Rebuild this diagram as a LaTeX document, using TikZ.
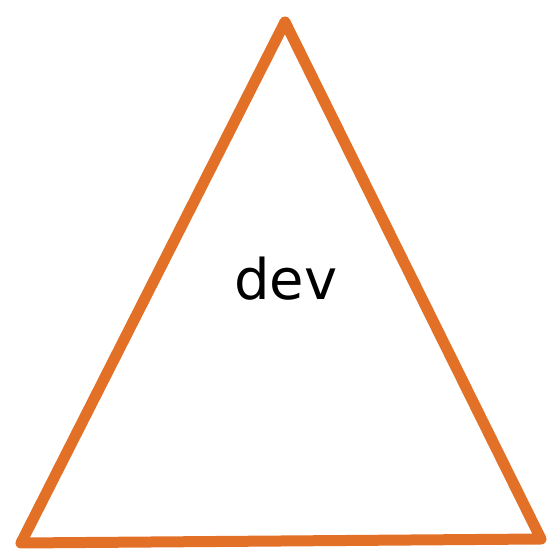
\documentclass[tikz,border=0pt]{standalone}
\usepackage{fontspec}
\setmainfont{DejaVu Sans}
\usepackage{xcolor}
\definecolor{devorange}{RGB}{226,112,38}

\begin{document}
\begin{tikzpicture}[
  x=1pt, y=-1pt,
  edge/.style={draw=devorange, line width=11pt, line join=round, line cap=round},
  lbl/.style={font=\fontsize{56}{60}\selectfont, inner sep=0pt, anchor=base}
]
\useasboundingbox (0,0) rectangle (555,553);
\coordinate (apex) at (285,22);
\coordinate (left) at (21,543);
\coordinate (right) at (541,539);
\node[lbl] (name) at (286,300) {dev};

\draw[edge] (apex) -- (right) -- (left) -- cycle;
\end{tikzpicture}
\end{document}
